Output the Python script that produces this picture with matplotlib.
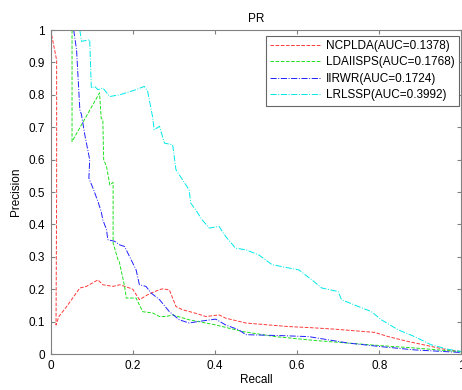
import numpy as np
import matplotlib
matplotlib.use('Agg')
from matplotlib import pyplot as plt

plt.rcParams['font.family'] = ['Liberation Sans', 'DejaVu Sans']
plt.rcParams['font.size'] = 8.5

# curves (recall, precision)
ncplda_x = [0.0, 0.0145, 0.0145, 0.013, 0.02, 0.039, 0.071, 0.087, 0.115, 0.127, 0.152, 0.168,
            0.192, 0.2, 0.216, 0.24, 0.265, 0.273, 0.289, 0.305, 0.321, 0.353, 0.378, 0.41,
            0.426, 0.475, 0.531, 0.579, 0.628, 0.692, 0.789, 0.822, 0.87, 0.918, 0.966, 1.0]
ncplda_y = [1.0, 0.907, 0.5, 0.09, 0.116, 0.147, 0.204, 0.209, 0.229, 0.214, 0.209, 0.214,
            0.204, 0.2, 0.168, 0.186, 0.199, 0.2015, 0.198, 0.147, 0.137, 0.126, 0.116, 0.121,
            0.111, 0.096, 0.09, 0.085, 0.082, 0.077, 0.067, 0.054, 0.039, 0.026, 0.013, 0.008]

ldaiisps_x = [0.052, 0.052, 0.119, 0.123, 0.127, 0.129, 0.136, 0.144, 0.152, 0.152, 0.164, 0.167,
              0.18, 0.184, 0.208, 0.224, 0.248, 0.265, 0.281, 0.297, 0.337, 0.402, 0.466, 0.547,
              0.644, 0.725, 0.805, 0.886, 1.0]
ldaiisps_y = [1.0, 0.656, 0.806, 0.728, 0.723, 0.6, 0.579, 0.522, 0.53, 0.343, 0.291, 0.285,
              0.209, 0.173, 0.173, 0.131, 0.127, 0.116, 0.116, 0.121, 0.106, 0.09, 0.07, 0.054,
              0.042, 0.034, 0.026, 0.019, 0.007]

iirwr_x = [0.056, 0.063, 0.071, 0.075, 0.083, 0.095, 0.093, 0.103, 0.115, 0.123, 0.127, 0.136,
           0.139, 0.156, 0.168, 0.18, 0.192, 0.208, 0.216, 0.232, 0.245, 0.265, 0.289, 0.313,
           0.337, 0.361, 0.402, 0.426, 0.458, 0.475, 0.563, 0.628, 0.725, 0.805, 0.886, 1.0]
iirwr_y = [1.0, 0.939, 0.754, 0.739, 0.677, 0.6, 0.543, 0.512, 0.471, 0.44, 0.414, 0.384,
           0.353, 0.348, 0.337, 0.332, 0.301, 0.26, 0.214, 0.209, 0.188, 0.168, 0.131, 0.106,
           0.096, 0.101, 0.108, 0.09, 0.075, 0.06, 0.057, 0.054, 0.034, 0.023, 0.013, 0.005]

lrlssp_x = [0.071, 0.075, 0.095, 0.099, 0.107, 0.115, 0.127, 0.144, 0.168, 0.208, 0.228, 0.236,
            0.248, 0.252, 0.265, 0.277, 0.297, 0.305, 0.321, 0.337, 0.341, 0.353, 0.369, 0.386,
            0.41, 0.426, 0.45, 0.475, 0.507, 0.539, 0.571, 0.604, 0.636, 0.66, 0.7, 0.708,
            0.749, 0.781, 0.805, 0.846, 0.886, 0.926, 0.967, 1.0]
lrlssp_y = [1.0, 0.965, 0.97, 0.821, 0.826, 0.816, 0.821, 0.795, 0.8, 0.816, 0.826, 0.811,
            0.733, 0.692, 0.703, 0.651, 0.646, 0.569, 0.538, 0.507, 0.466, 0.445, 0.414, 0.389,
            0.394, 0.363, 0.327, 0.322, 0.306, 0.276, 0.268, 0.26, 0.229, 0.204, 0.193, 0.168,
            0.147, 0.131, 0.106, 0.075, 0.054, 0.029, 0.015, 0.008]

labels = ['NCPLDA(AUC=0.1378)', 'LDAIISPS(AUC=0.1768)', 'IIRWR(AUC=0.1724)', 'LRLSSP(AUC=0.3992)']

fig = plt.figure(figsize=(4.62, 3.9), dpi=100)
ax = fig.add_axes([0.1097, 0.092, 0.889, 0.831])

ax.plot(ncplda_x, ncplda_y, '--', color='#ff3838', lw=0.7, label=labels[0])
ax.plot(ldaiisps_x, ldaiisps_y, '--', color='#20e020', lw=0.7, label=labels[1])
ax.plot(iirwr_x, iirwr_y, '-.', color='#2020ff', lw=0.7, label=labels[2])
ax.plot(lrlssp_x, lrlssp_y, '-.', color='#00e8e8', lw=0.7, label=labels[3])

ax.set_xlim(0, 1)
ax.set_ylim(0, 1)
ax.set_xticks(np.arange(0, 1.01, 0.2))
ax.set_xticklabels(['0', '0.2', '0.4', '0.6', '0.8', '1'])
ax.set_yticks(np.arange(0, 1.01, 0.1))
ax.set_yticklabels(['0', '0.1', '0.2', '0.3', '0.4', '0.5', '0.6', '0.7', '0.8', '0.9', '1'])
ax.tick_params(direction='in', top=True, right=True, length=3, color='0.5', labelsize=8.5, pad=4)
for s in ax.spines.values():
    s.set_color('0.5')
    s.set_linewidth(0.8)

ax.set_title('PR', fontsize=8.5, pad=6)
ax.set_xlabel('Recall', fontsize=8.5, labelpad=2)
ax.set_ylabel('Precision', fontsize=8.5, labelpad=5)

leg = ax.legend(loc='upper right', fontsize=8.5, fancybox=False, edgecolor='0.4',
                handlelength=4.3, handletextpad=0.4, borderpad=0.35, labelspacing=0.38,
                framealpha=1, borderaxespad=0, bbox_to_anchor=(0.993, 0.982))
leg.get_frame().set_linewidth(0.8)

fig.savefig('out.png', dpi=100)
